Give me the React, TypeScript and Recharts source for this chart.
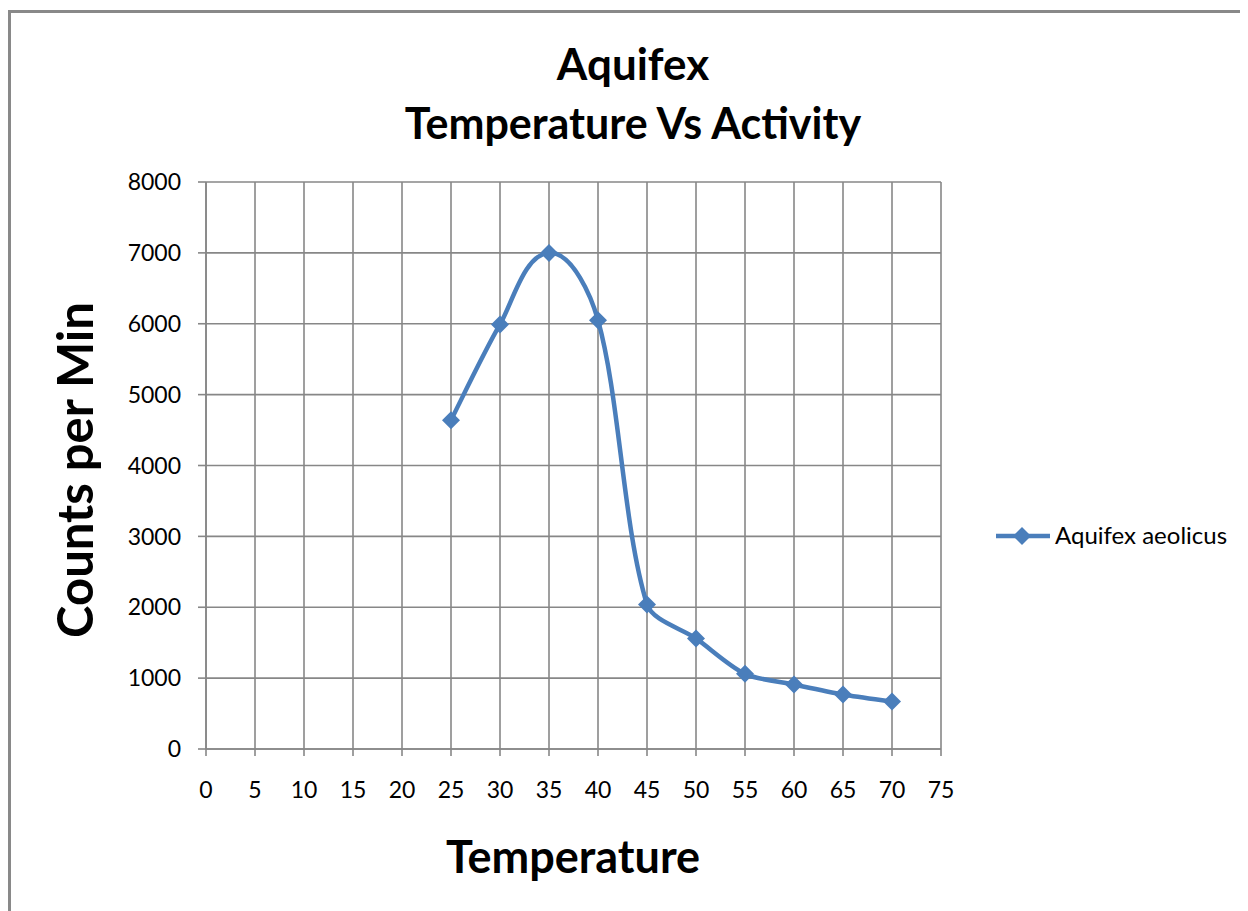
import React from "react";
import { LineChart, Line, XAxis, YAxis, CartesianGrid } from "recharts";

const temps = [25, 30, 35, 40, 45, 50, 55, 60, 65, 70];
const counts = [4640, 5990, 7000, 6050, 2040, 1560, 1060, 910, 770, 670];
const xTicks = [0, 5, 10, 15, 20, 25, 30, 35, 40, 45, 50, 55, 60, 65, 70, 75];
const yTicks = [0, 1000, 2000, 3000, 4000, 5000, 6000, 7000, 8000];
const seriesName = "Aquifex aeolicus";

const BLUE = "#4a7ebb";
const GRID = "#878787";
const FONT = "Lato, 'Open Sans', sans-serif";

// Excel-style smoothed line: tangent along (next - prev), control arm length
// scaled by the length of the adjacent segment, so short segments don't overshoot
function excelSmooth(context: any) {
  let pts: [number, number][] = [];
  let line: number = NaN;
  const draw = () => {
    const n = pts.length;
    if (!n) return;
    line ? context.lineTo(pts[0][0], pts[0][1]) : context.moveTo(pts[0][0], pts[0][1]);
    if (n === 1) return;
    const dist = (a: [number, number], b: [number, number]) => Math.hypot(b[0] - a[0], b[1] - a[1]);
    // tangent arm for point i: [dx,dy] unit direction
    const dir = (i: number): [number, number] => {
      const p = pts[Math.max(0, i - 1)];
      const q = pts[Math.min(n - 1, i + 1)];
      const len = dist(p, q) || 1;
      return [(q[0] - p[0]) / len, (q[1] - p[1]) / len];
    };
    for (let i = 0; i < n - 1; i++) {
      const a = pts[i];
      const b = pts[i + 1];
      const seg = dist(a, b);
      const da = dir(i);
      const db = dir(i + 1);
      const arm = seg / 3;
      // endpoints get a shorter arm
      const armA = i === 0 ? arm * 0.5 : arm * 0.85;
      const armB = i + 1 === n - 1 ? arm * 0.5 : arm * 0.85;
      context.bezierCurveTo(
        a[0] + da[0] * armA,
        a[1] + da[1] * armA,
        b[0] - db[0] * armB,
        b[1] - db[1] * armB,
        b[0],
        b[1]
      );
    }
  };
  return {
    areaStart() { line = 0; },
    areaEnd() { line = NaN; },
    lineStart() { pts = []; },
    lineEnd() {
      draw();
      if (line || (line !== 0 && pts.length === 1)) context.closePath();
      line = 1 - line;
    },
    point(x: number, y: number) {
      pts.push([+x, +y]);
    },
  };
}

const Diamond = (props: any) => {
  const { cx, cy } = props;
  if (cx == null || cy == null) return null;
  const r = 9;
  return (
    <polygon
      points={`${cx},${cy - r} ${cx + r},${cy} ${cx},${cy + r} ${cx - r},${cy}`}
      fill={BLUE}
      stroke="none"
    />
  );
};

export default function App() {
  const data = temps.map((t, i) => ({ temp: t, count: counts[i] }));

  return (
    <div style={{ position: "relative", width: 1240, height: 903, overflow: "hidden", background: "#fff" }}>
      <div
        style={{
          position: "absolute",
          left: 0,
          top: 2,
          width: 1400,
          height: 1100,
          border: "3px solid #898989",
        }}
      />
      <LineChart
        width={1240}
        height={903}
        data={data}
        margin={{ top: 174, right: 307, bottom: 102, left: 0 }}
        style={{ position: "absolute", left: 0, top: 0 }}
      >
        <CartesianGrid stroke={GRID} strokeWidth={1.6} horizontalValues={yTicks} verticalValues={xTicks} />
        <XAxis
          dataKey="temp"
          type="number"
          domain={[0, 75]}
          ticks={xTicks}
          interval={0}
          height={60}
          stroke={GRID}
          strokeWidth={1.6}
          tickSize={7}
          tickMargin={26}
          tick={{ fill: "#000", fontSize: 23, fontFamily: FONT }}
        />
        <YAxis
          type="number"
          domain={[0, 8000]}
          ticks={yTicks}
          interval={0}
          width={198}
          stroke={GRID}
          strokeWidth={1.6}
          tickSize={8}
          tickMargin={17}
          tick={{ fill: "#000", fontSize: 23, fontFamily: FONT }}
        />
        <Line
          dataKey="count"
          name={seriesName}
          type={excelSmooth as any}
          stroke={BLUE}
          strokeWidth={4.5}
          dot={<Diamond />}
          activeDot={false}
          isAnimationActive={false}
        />
      </LineChart>
      <svg
        width={1240}
        height={903}
        style={{ position: "absolute", left: 0, top: 0, pointerEvents: "none" }}
        fontFamily={FONT}
      >
        <text x={625} y={72} textAnchor="middle" fontSize={44} fontWeight="bold" fill="#000">
          Aquifex
        </text>
        <text x={625} y={131} textAnchor="middle" fontSize={43} fontWeight="bold" fill="#000">
          Temperature Vs Activity
        </text>
        <text x={565} y={865} textAnchor="middle" fontSize={45} fontWeight="bold" fill="#000">
          Temperature
        </text>
        <text
          x={85}
          y={462}
          textAnchor="middle"
          fontSize={49}
          fontWeight="bold"
          fill="#000"
          transform="rotate(-90 85 462)"
        >
          Counts per Min
        </text>
        <g>
          <line x1={988} y1={528} x2={1042} y2={528} stroke={BLUE} strokeWidth={4.5} />
          <polygon points="1014,519 1023,528 1014,537 1005,528" fill={BLUE} />
          <text x={1047} y={536} fontSize={24} fill="#000">
            {seriesName}
          </text>
        </g>
      </svg>
    </div>
  );
}
